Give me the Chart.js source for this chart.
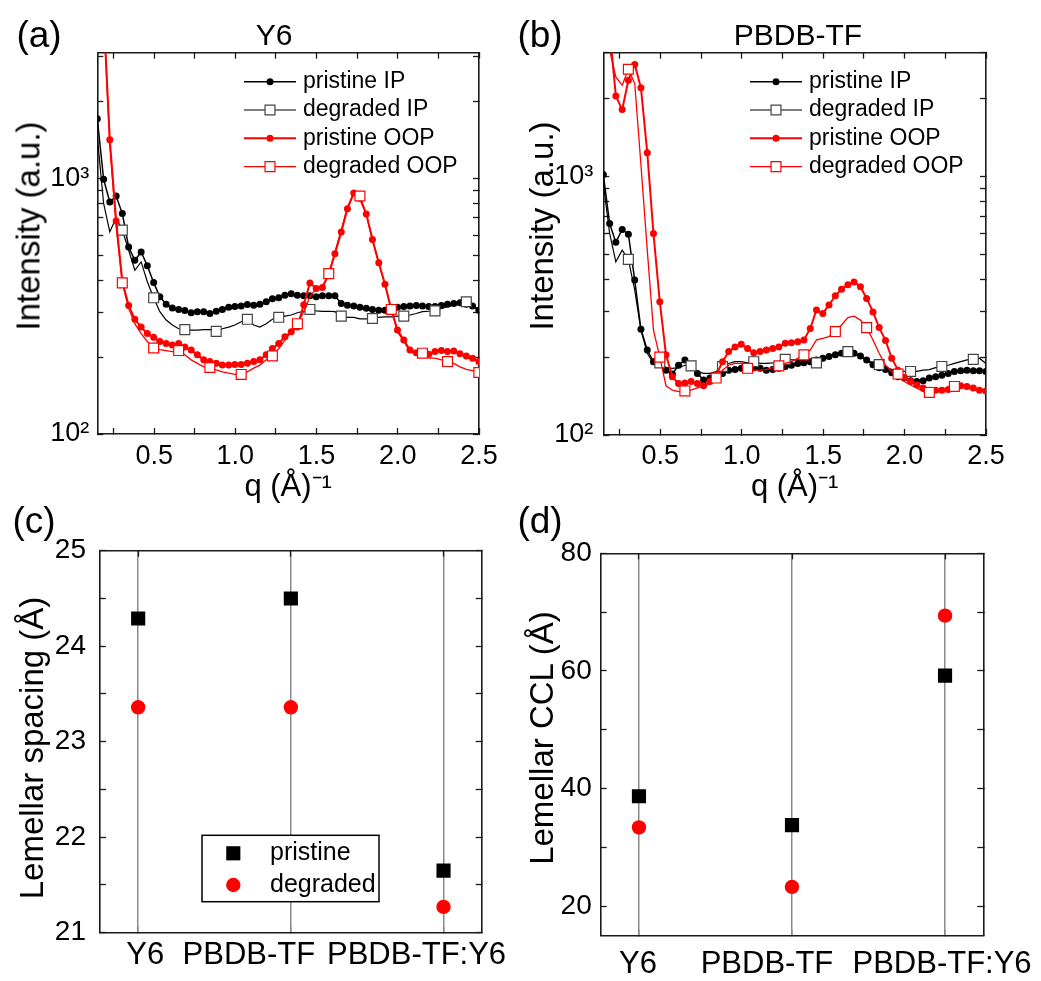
<!DOCTYPE html>
<html lang="en">
<head>
<meta charset="UTF-8">
<title>Line cuts and lamellar parameters</title>
<script src="https://cdn.jsdelivr.net/npm/chart.js"></script>
<style>
  body { margin: 0; background: #fff; font-family: 'Liberation Sans', Arial, sans-serif; }
  #fig { position: relative; width: 1041px; height: 981px; background: #fff; overflow: hidden; }
  #fig canvas { position: absolute; }
  .lbl { position: absolute; transform: translate(-50%, -50%); line-height: 1; white-space: nowrap; color: #000; }
  .ytl { position: absolute; transform: translate(-50%, -50%) rotate(-90deg); line-height: 1; white-space: nowrap; color: #000; font-size: 33px; }
  .tag { font-size: 37px; }
  .ttl { font-size: 30px; }
</style>
</head>
<body>
<div id="fig">
  <canvas id="panelA" width="520" height="520" style="left:0;top:0"></canvas>
  <canvas id="panelB" width="521" height="520" style="left:520px;top:0"></canvas>
  <canvas id="panelC" width="520" height="481" style="left:0;top:500px"></canvas>
  <canvas id="panelD" width="521" height="481" style="left:520px;top:500px"></canvas>
  <div class="lbl tag" style="left:39px;top:34px">(a)</div>
  <div class="lbl ttl" style="left:274px;top:35px">Y6</div>
  <div class="lbl tag" style="left:540px;top:34px">(b)</div>
  <div class="lbl ttl" style="left:798px;top:35px">PBDB-TF</div>
  <div class="lbl tag" style="left:34px;top:520px">(c)</div>
  <div class="lbl tag" style="left:540px;top:520px">(d)</div>
  <div class="ytl" style="left:28px;top:226px">Intensity (a.u.)</div>
  <div class="ytl" style="left:541px;top:226px">Intensity (a.u.)</div>
  <div class="ytl" style="left:31px;top:748px">Lemellar spacing (Å)</div>
  <div class="ytl" style="left:541px;top:738px">Lemellar CCL (Å)</div>
</div>

<script>
  // q grid of the line cuts (Å^-1)
  const qGrid = [0.150, 0.189, 0.227, 0.266, 0.304, 0.343, 0.381, 0.420, 0.458, 0.497,
                 0.535, 0.574, 0.612, 0.651, 0.689, 0.728, 0.766, 0.805, 0.843, 0.882,
                 0.920, 0.959, 0.997, 1.036, 1.074, 1.113, 1.151, 1.190, 1.228, 1.267,
                 1.305, 1.344, 1.382, 1.421, 1.459, 1.498, 1.536, 1.575, 1.613, 1.652,
                 1.690, 1.729, 1.767, 1.806, 1.844, 1.883, 1.921, 1.960, 1.998, 2.037,
                 2.075, 2.114, 2.152, 2.191, 2.229, 2.268, 2.306, 2.345, 2.383, 2.422,
                 2.460, 2.499];

  // (a) Y6
  const y6PristineIP = [1710, 991, 808, 853, 728, 539, 478, 515, 455, 391,
                        344, 322, 311, 307, 304, 298, 301, 301, 296, 302,
                        307, 313, 315, 317, 321, 319, 322, 329, 338, 341,
                        349, 354, 349, 347, 347, 344, 347, 347, 347, 324,
                        319, 317, 313, 310, 307, 305, 305, 309, 313, 315,
                        317, 318, 317, 315, 315, 318, 322, 324, 326, 322,
                        317, 305];
  const y6DegradedIP = [1449, 797, 617, 701, 627, 523, 437, 471, 394, 341,
                        301, 279, 267, 258, 256, 255, 255, 256, 256, 252,
                        258, 262, 267, 275, 281, 267, 262, 270, 281, 286,
                        289, 292, 298, 302, 307, 303, 302, 302, 301, 289,
                        286, 286, 282, 282, 283, 286, 287, 287, 289, 289,
                        292, 296, 301, 302, 303, 310, 315, 319, 322, 329,
                        319, 307];
  const y6PristineOOP = [9000, 4400, 1416, 681, 395, 318, 281, 262, 247, 239,
                         230, 226, 223, 226, 219, 213, 204, 195, 192, 189,
                         186, 186, 187, 187, 189, 192, 195, 204, 216, 226,
                         240, 251, 262, 320, 390, 371, 374, 421, 507, 617,
                         760, 877, 833, 726, 576, 467, 385, 307, 255, 233,
                         213, 208, 208, 205, 210, 212, 210, 211, 206, 202,
                         198, 192];
  const y6DegradedOOP = [9000, 4400, 1350, 650, 390, 310, 270, 247, 230, 217,
                         214, 212, 210, 212, 204, 195, 189, 183, 182, 178,
                         175, 173, 171, 171, 175, 181, 186, 195, 202, 216,
                         233, 251, 270, 300, 344, 371, 376, 424, 515, 627,
                         772, 871, 853, 723, 576, 467, 385, 307, 251, 230,
                         210, 204, 207, 198, 198, 195, 192, 189, 183, 179,
                         177, 174];

  // (b) PBDB-TF
  const pbPristineIP = [1014, 656, 555, 623, 597, 397, 256, 213, 192, 189,
                        178, 172, 186, 195, 184, 173, 163, 166, 168, 173,
                        178, 179, 181, 179, 182, 181, 178, 179, 181, 184,
                        186, 189, 190, 192, 195, 198, 201, 204, 207, 209,
                        207, 202, 195, 187, 182, 179, 174, 168, 166, 162,
                        161, 162, 166, 168, 170, 173, 176, 177, 178, 177,
                        177, 176];
  const pbDegradedIP = [937, 601, 467, 518, 477, 363, 254, 207, 189, 190,
                        182, 181, 182, 186, 185, 176, 173, 173, 176, 184,
                        189, 192, 192, 190, 192, 189, 189, 190, 192, 196,
                        195, 195, 192, 192, 190, 198, 202, 205, 210, 210,
                        205, 201, 195, 190, 187, 184, 179, 176, 176, 176,
                        176, 178, 179, 182, 184, 186, 189, 192, 195, 196,
                        198, 189];
  const pbPristineOOP = [6000, 3660, 2040, 1808, 2348, 2700, 2197, 1233, 601, 327,
                         204, 168, 158, 159, 161, 158, 155, 161, 170, 192,
                         210, 219, 224, 216, 208, 210, 213, 216, 219, 226,
                         227, 229, 233, 258, 304, 295, 318, 345, 366, 381,
                         390, 374, 337, 299, 260, 232, 198, 178, 167, 161,
                         156, 152, 149, 149, 149, 150, 154, 155, 154, 152,
                         149, 148];
  const pbDegradedOOP = [6000, 3060, 2420, 2245, 2589, 2280, 1110, 518, 254, 200,
                         155, 149, 147, 148, 149, 152, 154, 158, 166, 178,
                         186, 189, 189, 181, 178, 178, 179, 182, 185, 189,
                         192, 198, 204, 213, 233, 236, 240, 251, 266, 284,
                         288, 278, 260, 233, 207, 186, 176, 172, 161, 156,
                         152, 147, 146, 147, 149, 152, 154, 154, 152, 150,
                         148, 147];

  const logTicks = [100, 200, 300, 400, 500, 600, 700, 800, 900, 1000, 2000, 3000];

  // (c) and (d)
  const categories = ['Y6', 'PBDB-TF', 'PBDB-TF:Y6'];
  const spacingPristine = [24.29, 24.50, 21.65];
  const spacingDegraded = [23.36, 23.36, 21.27];
  const cclPristine = [38.7, 33.8, 59.2];
  const cclDegraded = [33.4, 23.3, 69.4];

  // which points of the degraded curves carry an open square
  const ipMarks = [4, 9, 14, 19, 24, 29, 34, 39, 44, 49, 54, 59];
  const y6OopMarks = [4, 9, 13, 18, 23, 28, 32, 37, 42, 47, 52, 56, 61];
  const pbOopMarks = [4, 9, 13, 18, 23, 28, 32, 37, 42, 47, 52, 56];

  const FONT = "'Liberation Sans', Arial, sans-serif";
  Chart.defaults.font.family = FONT;
  Chart.defaults.color = '#000';

  const INK = '#1a1a1a';
  const RED = '#ff0000';
  const frame = { display: true, color: INK, width: 1.6 };

  function inTicks(extra) {
    return Object.assign({ display: true, drawOnChartArea: false, drawTicks: true,
                           tickLength: -6, tickWidth: 1.3, color: INK }, extra || {});
  }
  const fixW = w => s => { s.width = w; s.paddingTop = 0; s.paddingBottom = 0; };
  const fixH = h => s => { s.height = h; s.paddingLeft = 0; s.paddingRight = 0; };
  const isHalf = v => Math.abs(v * 2 - Math.round(v * 2)) < 1e-6;
  const near = (a, b) => Math.abs(a - b) < 1e-6;

  // legend drawn inside the plot, Origin style
  const lineKey = {
    id: 'lineKey',
    afterDatasetsDraw(chart, args, o) {
      const ctx = chart.ctx;
      ctx.save();
      if (o.box) {
        const [x0, y0, x1, y1] = o.box;
        ctx.fillStyle = '#fff';
        ctx.fillRect(x0, y0, x1 - x0, y1 - y0);
        ctx.strokeStyle = '#000';
        ctx.lineWidth = 1.5;
        ctx.strokeRect(x0, y0, x1 - x0, y1 - y0);
      }
      ctx.font = o.size + 'px ' + FONT;
      ctx.textBaseline = 'middle';
      ctx.textAlign = 'left';
      chart.data.datasets.forEach((ds, i) => {
        const y = o.y + i * o.gap;
        if (o.len) {
          ctx.strokeStyle = ds.borderColor;
          ctx.lineWidth = ds.borderWidth;
          ctx.beginPath();
          ctx.moveTo(o.x - o.len / 2, y);
          ctx.lineTo(o.x + o.len / 2, y);
          ctx.stroke();
        }
        const r = typeof ds.pointRadius === 'number' ? ds.pointRadius : o.markR;
        const bw = ds.pointBorderWidth || 0;
        ctx.fillStyle = ds.pointBackgroundColor;
        ctx.strokeStyle = ds.pointBorderColor || ds.borderColor;
        ctx.lineWidth = bw;
        Chart.helpers.drawPoint(ctx, { pointStyle: ds.pointStyle, radius: r, rotation: 0, borderWidth: bw }, o.x, y);
        ctx.fillStyle = '#000';
        ctx.fillText(ds.label, o.textX, y);
      });
      ctx.restore();
    }
  };

  // category names under (c) and (d), nudged the way the original figure sets them
  const catLabels = {
    id: 'catLabels',
    afterDraw(chart, args, o) {
      const sx = chart.scales.x, ctx = chart.ctx;
      ctx.save();
      ctx.font = o.size + 'px ' + FONT;
      ctx.fillStyle = '#000';
      ctx.textAlign = 'center';
      ctx.textBaseline = 'middle';
      categories.forEach((name, i) => ctx.fillText(name, sx.getPixelForValue(i) + o.shift[i], o.y));
      ctx.restore();
    }
  };

  function curveSets(pIP, dIP, pOOP, dOOP, oopMarks) {
    const pts = arr => qGrid.map((x, i) => ({ x, y: arr[i] }));
    return [
      { label: 'pristine IP', data: pts(pIP), borderColor: '#000', borderWidth: 1.5,
        pointStyle: 'circle', pointRadius: 3.5, pointBackgroundColor: '#000', pointBorderWidth: 0, order: 3 },
      { label: 'degraded IP', data: pts(dIP), borderColor: '#000', borderWidth: 1.2,
        pointStyle: 'rect', pointRadius: c => ipMarks.includes(c.dataIndex) ? 7 : 0,
        pointBackgroundColor: '#fff', pointBorderColor: '#444', pointBorderWidth: 1.2, order: 2 },
      { label: 'pristine OOP', data: pts(pOOP), borderColor: RED, borderWidth: 2,
        pointStyle: 'circle', pointRadius: 3.5, pointBackgroundColor: RED, pointBorderWidth: 0, order: 1 },
      { label: 'degraded OOP', data: pts(dOOP), borderColor: RED, borderWidth: 1.3,
        pointStyle: 'rect', pointRadius: c => oopMarks.includes(c.dataIndex) ? 7 : 0,
        pointBackgroundColor: '#fff', pointBorderColor: RED, pointBorderWidth: 1.2, order: 0 }
    ];
  }

  function curvePanel(id, sets, c) {
    return new Chart(document.getElementById(id), {
      type: 'line',
      data: { datasets: sets.map(s => Object.assign(s, { clip: 0, tension: 0 })) },
      options: {
        responsive: false, animation: false, events: [], devicePixelRatio: 1,
        layout: { padding: c.pad, autoPadding: false },
        plugins: {
          legend: { display: false }, tooltip: { enabled: false },
          lineKey: { x: c.keyX, y: 81.7, gap: 28.3, len: 52, textX: c.keyX + 33, size: 23, markR: 7 }
        },
        scales: {
          x: {
            type: 'linear', position: 'bottom', min: 0.15, max: 2.5,
            ticks: { stepSize: 0.25, includeBounds: false, autoSkip: false, maxRotation: 0,
                     padding: c.xTickPad, font: { size: 27 },
                     callback: v => isHalf(v) ? v.toFixed(1) : '' },
            grid: inTicks(), border: frame,
            title: { display: true, text: 'q (Å)⁻¹', font: { size: 31 }, padding: { top: 0, bottom: 14 } },
            afterFit: fixH(c.bottomH)
          },
          xTop: {
            type: 'linear', position: 'top', min: 0.15, max: 2.5,
            ticks: { display: false, stepSize: 0.25, includeBounds: false, autoSkip: false },
            grid: inTicks(), border: frame, afterFit: fixH(0)
          },
          y: {
            type: 'logarithmic', position: 'left', min: 100, max: c.yMax,
            afterBuildTicks: s => { s.ticks = logTicks.map(v => ({ value: v })); },
            ticks: { autoSkip: false, padding: c.yTickPad, font: { size: 27 },
                     callback: v => near(v, 100) ? '10²' : near(v, 1000) ? '10³' : '' },
            grid: inTicks(), border: frame,
            afterFit: fixW(c.leftW)
          },
          yRight: {
            type: 'logarithmic', position: 'right', min: 100, max: c.yMax,
            afterBuildTicks: s => { s.ticks = logTicks.map(v => ({ value: v })); },
            ticks: { display: false, autoSkip: false },
            grid: inTicks(), border: frame, afterFit: fixW(0)
          }
        }
      },
      plugins: [lineKey]
    });
  }

  function pointPanel(id, pristine, degraded, c) {
    const pts = arr => categories.map((name, i) => ({ x: i, y: arr[i] }));
    const plugins = c.key ? [lineKey, catLabels] : [catLabels];
    return new Chart(document.getElementById(id), {
      type: 'scatter',
      data: {
        datasets: [
          { label: 'pristine', data: pts(pristine), pointStyle: 'rect', pointRadius: 10,
            pointBackgroundColor: '#000', pointBorderWidth: 0, borderColor: '#000', borderWidth: 0 },
          { label: 'degraded', data: pts(degraded), pointStyle: 'circle', pointRadius: 7.2,
            pointBackgroundColor: RED, pointBorderWidth: 0, borderColor: RED, borderWidth: 0 }
        ]
      },
      options: {
        responsive: false, animation: false, events: [], devicePixelRatio: 1,
        layout: { padding: c.pad, autoPadding: false },
        plugins: { legend: { display: false }, tooltip: { enabled: false },
                   lineKey: c.key || {}, catLabels: c.cats },
        scales: {
          x: {
            type: 'linear', position: 'bottom', min: -0.25, max: 2.25,
            ticks: { display: false, stepSize: 1, includeBounds: false, autoSkip: false },
            grid: { display: true, drawOnChartArea: true, drawTicks: true, tickLength: -6,
                    color: '#8a8a8a', lineWidth: 1.5, tickColor: '#8a8a8a' },
            border: frame, afterFit: fixH(c.bottomH)
          },
          xTop: {
            type: 'linear', position: 'top', min: -0.25, max: 2.25,
            ticks: { display: false, stepSize: 1, includeBounds: false, autoSkip: false },
            grid: inTicks(), border: frame, afterFit: fixH(0)
          },
          y: {
            type: 'linear', position: 'left', min: c.yMin, max: c.yMax,
            ticks: { stepSize: c.yStep, includeBounds: false, autoSkip: false,
                     padding: c.yTickPad, font: { size: 28 },
                     callback: v => near(v % c.yLabelEvery, 0) || near(v % c.yLabelEvery, c.yLabelEvery) ? String(Math.round(v)) : '' },
            grid: inTicks(), border: frame,
            afterFit: fixW(c.leftW)
          },
          yRight: {
            type: 'linear', position: 'right', min: c.yMin, max: c.yMax,
            ticks: { display: false, stepSize: c.yStep, includeBounds: false, autoSkip: false },
            grid: inTicks(), border: frame, afterFit: fixW(0)
          }
        }
      },
      plugins
    });
  }

  curvePanel('panelA', curveSets(y6PristineIP, y6DegradedIP, y6PristineOOP, y6DegradedOOP, y6OopMarks), {
    pad: { top: 52.7, right: 41, left: 0, bottom: 0 },
    leftW: 97.3, bottomH: 86, yMax: 3100,
    xTickPad: 12, yTickPad: 14, keyX: 270
  });

  curvePanel('panelB', curveSets(pbPristineIP, pbDegradedIP, pbPristineOOP, pbDegradedOOP, pbOopMarks), {
    pad: { top: 52.7, right: 55, left: 0, bottom: 0 },
    leftW: 83.3, bottomH: 85, yMax: 3000,
    xTickPad: 11, yTickPad: 16, keyX: 256
  });

  pointPanel('panelC', spacingPristine, spacingDegraded, {
    pad: { top: 50.7, right: 38.3, left: 0, bottom: 0 },
    leftW: 100, bottomH: 48.3, yMin: 21, yMax: 25, yStep: 0.5, yLabelEvery: 1, yTickPad: 20,
    cats: { size: 31, y: 455, shift: [7, -42, -27] },
    key: { x: 233.3, y: 353.3, gap: 31.7, len: 0, textX: 270, size: 25, box: [202, 335.3, 379, 401.7] }
  });

  pointPanel('panelD', cclPristine, cclDegraded, {
    pad: { top: 53.3, right: 57.7, left: 0, bottom: 0 },
    leftW: 80.7, bottomH: 45.3, yMin: 15, yMax: 80, yStep: 10, yLabelEvery: 20, yTickPad: 15,
    cats: { size: 31, y: 464, shift: [-1, -25, -3] }
  });
</script>
</body>
</html>
